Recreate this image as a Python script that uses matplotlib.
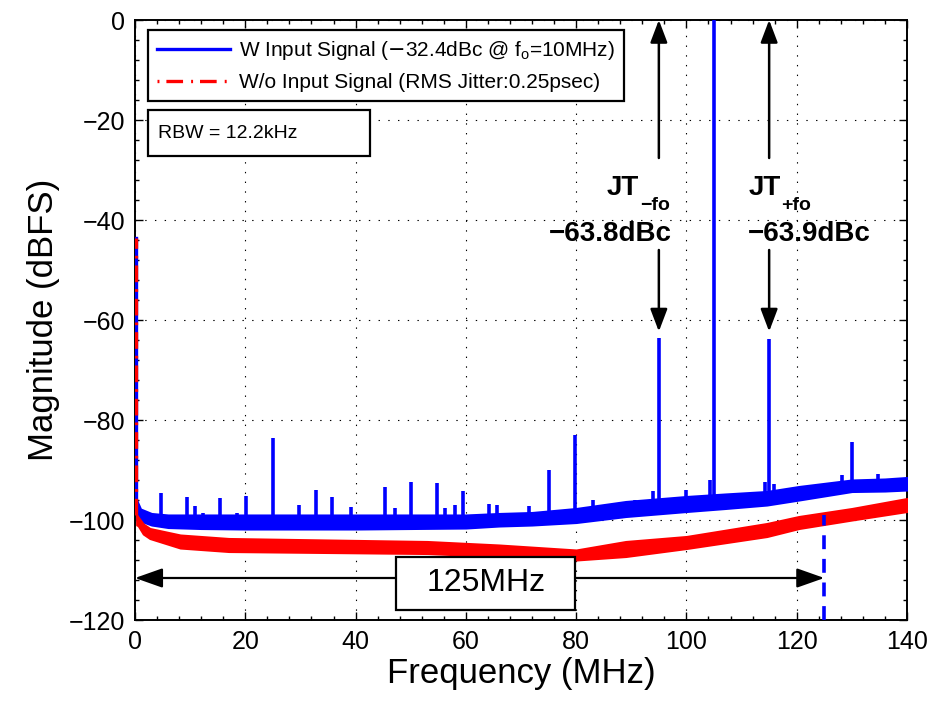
import numpy as np
import matplotlib
matplotlib.use("Agg")
import matplotlib.pyplot as plt
from matplotlib.ticker import MultipleLocator
from matplotlib.patches import Rectangle
from matplotlib.lines import Line2D

plt.rcParams['font.family'] = ['Liberation Sans', 'DejaVu Sans']
plt.rcParams['lines.scale_dashes'] = False

# ---------------- data ----------------
dc_level = -43.5          # DC bin of both traces (dBFS)
dc_freq = 0.2

# blue trace (with input signal): noise-floor envelope
blue_f  = [0.3, 1, 3, 6, 12, 20, 30, 40, 50, 60, 66, 72, 80, 89, 100, 107, 114.6, 120.4, 130, 136, 140]
blue_lo = [-100.0, -100.2, -101.0, -101.5, -101.7, -101.8, -101.8, -101.8, -101.7, -101.6, -101.2,
           -101.0, -100.5, -99.3, -98.3, -97.7, -97.0, -96.0, -94.3, -94.2, -94.0]
blue_hi = [-96.0, -97.8, -98.7, -99.0, -99.0, -99.0, -99.0, -99.0, -99.0, -99.0, -98.7,
           -98.5, -97.7, -96.3, -95.3, -94.8, -94.3, -93.3, -92.0, -91.8, -91.5]

# blue trace spurs (frequency MHz, peak dBFS)
spur_f    = [4.7, 9.4, 10.9, 12.3, 15.5, 18.5, 20.2, 25.0, 29.7, 32.9, 35.8, 39.2, 45.3, 47.2,
             50.1, 54.7, 56.2, 58.0, 59.4, 64.2, 65.6, 71.5, 75.1, 79.8, 83.1, 90.7, 94.0,
             95.0, 100.0, 104.3, 105.0, 114.3, 115.0, 115.9, 128.2, 130.0, 134.7]
spur_peak = [-94.5, -95.3, -97.1, -98.5, -95.5, -98.5, -95.1, -83.5, -97.0, -94.0, -95.3, -97.3,
             -93.3, -97.5, -92.3, -92.5, -97.5, -96.9, -94.2, -96.7, -96.9, -97.2, -90.0, -83.0,
             -96.0, -96.0, -94.1, -63.6, -93.9, -91.9, 0.0, -92.3, -63.7, -92.7, -91.0, -84.3, -90.7]

# red trace (without input signal): noise-floor envelope
red_f  = [0.3, 0.5, 1.5, 2.7, 8.2, 17, 35, 53, 66, 80, 89, 100, 114.6, 120.4, 130, 140]
red_lo = [-101.0, -101.0, -102.8, -103.7, -105.6, -106.3, -106.5, -106.7, -107.3, -108.0,
          -107.3, -105.7, -103.3, -101.7, -100.0, -98.3]
red_hi = [-99.0, -99.3, -100.8, -101.7, -103.0, -103.7, -104.0, -104.3, -105.0, -106.0,
          -104.3, -103.3, -100.7, -99.3, -97.7, -95.7]

nyq_freq = 125.0
nyq_top = -99.0
span_y = -111.6

legend_labels = [r'W Input Signal ($-$32.4dBc @ $\mathregular{f_o}$=10MHz)',
                 'W/o Input Signal (RMS Jitter:0.25psec)']
rbw_text = 'RBW = 12.2kHz'
span_text = '125MHz'
jt_freqs = [95.0, 115.0]
jt_subs = ['\u2212fo', '+fo']
jt_values = ['\u221263.8dBc', '\u221263.9dBc']

xticks = list(range(0, 141, 20))
yticks = list(range(-120, 1, 20))

# ---------------- figure ----------------
BLUE = '#0000ff'
RED = '#ff0000'

fig = plt.figure(figsize=(9.34, 7.02), dpi=100)
ax = fig.add_axes([135/934, 1-620/702, 772/934, 600/702])

# blue trace
ax.fill_between(blue_f, blue_lo, blue_hi, color=BLUE, lw=1.5, zorder=3)
base = np.interp(spur_f, blue_f, blue_lo)
ax.vlines(spur_f, base, spur_peak, color=BLUE, lw=2.6, zorder=3)
ax.plot([dc_freq, dc_freq], [blue_hi[0], dc_level], color=BLUE, lw=2.4, zorder=3)

# red trace
ax.fill_between(red_f, red_lo, red_hi, color=RED, lw=1.5, zorder=4)
ax.plot([dc_freq, dc_freq], [red_hi[0], dc_level], color=RED, lw=2.4, zorder=4,
        dashes=(12, 5, 2, 5))

# nyquist dashed line
ax.plot([nyq_freq, nyq_freq], [-120, nyq_top], color=BLUE, lw=2.6, dashes=(10, 7), zorder=5)

# 125 MHz span arrow and box
ax.annotate('', xy=(0, span_y), xytext=(nyq_freq, span_y),
            arrowprops=dict(arrowstyle='<|-|>,head_length=1.7,head_width=0.6',
                            color='k', lw=1.6, shrinkA=0, shrinkB=0, mutation_scale=10),
            zorder=6)
ax.add_patch(Rectangle((47.4, -118.0), 32.4, 10.7, facecolor='white', edgecolor='k',
                       lw=1.6, zorder=7))
ax.text(63.6, -112.6, span_text, ha='center', va='center', fontsize=23, zorder=8)

# JT annotations
for f in jt_freqs:
    ax.annotate('', xy=(f, 0), xytext=(f, -27.6),
                arrowprops=dict(arrowstyle='-|>,head_length=1.37,head_width=0.52',
                                color='k', lw=1.8, shrinkA=0, shrinkB=0, mutation_scale=10),
                zorder=6)
    ax.annotate('', xy=(f, -62.3), xytext=(f, -46.0),
                arrowprops=dict(arrowstyle='-|>,head_length=1.37,head_width=0.52',
                                color='k', lw=1.8, shrinkA=0, shrinkB=0, mutation_scale=10),
                zorder=6)

ax.text(85.5, -35.0, 'JT', fontsize=20, fontweight='bold', ha='left', va='baseline', zorder=8)
ax.text(91.6, -37.9, jt_subs[0], fontsize=14, fontweight='bold', ha='left', va='baseline', zorder=8)
ax.text(97.4, -44.1, jt_values[0], fontsize=20, fontweight='bold', ha='right', va='baseline', zorder=8)
ax.text(111.2, -35.0, 'JT', fontsize=20, fontweight='bold', ha='left', va='baseline', zorder=8)
ax.text(117.1, -37.9, jt_subs[1], fontsize=14, fontweight='bold', ha='left', va='baseline', zorder=8)
ax.text(111.2, -44.1, jt_values[1], fontsize=20, fontweight='bold', ha='left', va='baseline', zorder=8)

# RBW box
ax.add_patch(Rectangle((2.36, -27.2), 40.2, 9.2, facecolor='white', edgecolor='k',
                       lw=1.6, zorder=7))
ax.text(4.2, -22.6, rbw_text, ha='left', va='center', fontsize=14, zorder=8)

# legend
handles = [Line2D([], [], color=BLUE, lw=2.4),
           Line2D([], [], color=RED, lw=2.4, dashes=(1.4, 5, 12, 5.8))]
leg = ax.legend(handles, legend_labels, loc='upper left',
                bbox_to_anchor=((148-135)/772, (620-30)/600), borderaxespad=0,
                fontsize=15, handlelength=3.5, handletextpad=0.4, labelspacing=0.5,
                borderpad=0.45, fancybox=False, framealpha=1, edgecolor='k')
leg.get_frame().set_linewidth(1.6)
leg.set_zorder(9)

# axes
ax.set_xlim(0, 140)
ax.set_ylim(-120, 0)
ax.set_xticks(xticks)
ax.set_yticks(yticks)
ax.xaxis.set_minor_locator(MultipleLocator(4))
ax.yaxis.set_minor_locator(MultipleLocator(4))
ax.tick_params(which='both', direction='in', top=True, right=True, width=1.0)
ax.tick_params(which='major', length=6, labelsize=18, pad=7)
ax.tick_params(which='minor', length=3)
ax.grid(True, which='major', color='k', lw=0.8, linestyle=(0, (1, 6)))
ax.set_axisbelow(True)
for s in ax.spines.values():
    s.set_linewidth(1.4)

ax.set_xlabel('Frequency (MHz)', fontsize=25, labelpad=2)
ax.set_ylabel('Magnitude (dBFS)', fontsize=25, labelpad=6)

fig.savefig('out.png', dpi=100)
